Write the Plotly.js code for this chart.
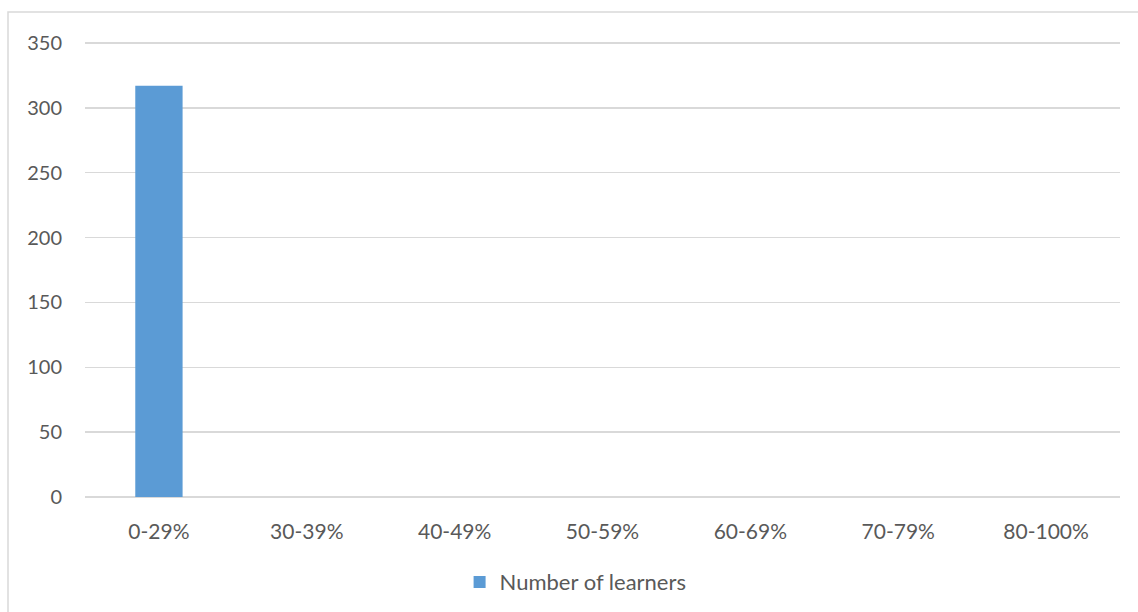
<!DOCTYPE html>
<html>
<head>
<meta charset="utf-8">
<script src="https://cdn.plot.ly/plotly-3.0.1.min.js"></script>
<style>
  html, body { margin: 0; padding: 0; background: #ffffff; }
  #chart { width: 1138px; height: 612px; }
</style>
</head>
<body>
<div id="chart"></div>
<script>
// Score bands and the learner count in each band
const scoreBands = ["0-29%", "30-39%", "40-49%", "50-59%", "60-69%", "70-79%", "80-100%"];
const learnerCounts = [317, 0, 0, 0, 0, 0, 0];
const seriesName = "Number of learners";
const yTicks = [0, 50, 100, 150, 200, 250, 300, 350];

const textColor = "#595959";
const gridColor = "#D9D9D9";
const fontFamily = "Lato, Open Sans, sans-serif";

const trace = {
  type: "bar",
  x: scoreBands,
  y: learnerCounts,
  name: seriesName,
  marker: { color: "#5B9BD5" },
  showlegend: true
};

const layout = {
  width: 1138,
  height: 612,
  margin: { l: 85, r: 18, t: 42, b: 115, autoexpand: false },
  paper_bgcolor: "#ffffff",
  plot_bgcolor: "#ffffff",
  font: { family: fontFamily, size: 20, color: textColor },
  bargap: 0.68,
  xaxis: {
    type: "category",
    automargin: false,
    showgrid: false,
    showline: false,
    zeroline: false,
    ticks: "",
    ticklabelstandoff: 20,
    tickfont: { family: fontFamily, size: 21, color: textColor },
    fixedrange: true
  },
  yaxis: {
    // a hair above 350 so the top gridline is still drawn
    range: [0, 350.8],
    automargin: false,
    tickvals: yTicks,
    showgrid: true,
    gridcolor: gridColor,
    gridwidth: 1.5,
    zeroline: true,
    zerolinecolor: gridColor,
    zerolinewidth: 1.5,
    showline: false,
    ticks: "",
    ticklabelstandoff: 22,
    tickfont: { family: fontFamily, size: 20, color: textColor },
    fixedrange: true
  },
  legend: {
    orientation: "h",
    x: 0.474,
    xanchor: "center",
    y: -0.187,
    yanchor: "middle",
    font: { family: fontFamily, size: 22, color: textColor },
    itemwidth: 30
  },
  shapes: [{
    type: "rect",
    xref: "paper",
    yref: "paper",
    x0: -0.0744,
    x1: 1.03,
    y0: -0.3,
    y1: 1.066,
    line: { color: gridColor, width: 1.5 },
    fillcolor: "rgba(0,0,0,0)",
    layer: "below"
  }]
};

Plotly.newPlot("chart", [trace], layout, { displayModeBar: false, staticPlot: true });
</script>
</body>
</html>
